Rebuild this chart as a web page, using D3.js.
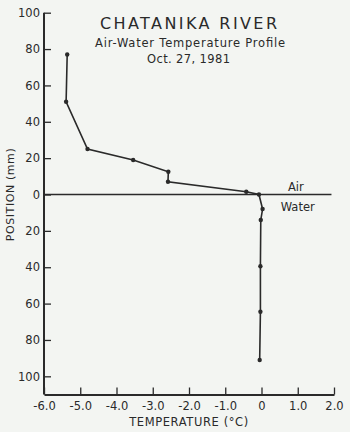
<!DOCTYPE html>
<html>
<head>
<meta charset="utf-8">
<script src="https://cdn.jsdelivr.net/npm/d3@7"></script>
<style>
  body { margin: 0; background: #f3f5f2; }
  svg { display: block; }
  text { font-family: "DejaVu Sans", sans-serif; fill: #2a2a2a; }
</style>
</head>
<body>
<svg id="chart" width="350" height="432"></svg>
<script>
// temperature (deg C) and position (mm, air positive / water negative)
var temperature = [-5.36, -5.39, -4.80, -3.54, -2.57, -2.58, -0.42, -0.07, 0.03, -0.02, -0.03, -0.03, -0.05];
var position    = [77, 51, 25, 19, 12.5, 7, 1.5, 0, -8, -14, -39.5, -64.5, -91];
var xTicks = [-6, -5, -4, -3, -2, -1, 0, 1, 2];
var yTicks = [100, 80, 60, 40, 20, 0, -20, -40, -60, -80, -100];

var points = temperature.map(function(t, i) {
	return {t: t, p: position[i]};
});

var svg = d3.select("#chart");
var ink = "#2a2a2a";

var x = d3.scaleLinear()
	.domain([-6, 2])
	.range([44, 334]);

var y = d3.scaleLinear()
	.domain([-110, 100])
	.range([394.5, 12.7]);

// y axis, ticks pointing inward
var yAxis = d3.axisLeft(y)
	.tickValues(yTicks)
	.tickSizeInner(-7)
	.tickSizeOuter(0)
	.tickPadding(4)
	.tickFormat(function(d) { return Math.abs(d); });

var gy = svg.append("g")
	.attr("transform", "translate(" + x(-6) + ",0)")
	.call(yAxis);
gy.selectAll("text").style("font-size", "11.5px").attr("fill", ink);
gy.selectAll("line").attr("stroke", ink).attr("stroke-width", 1.3);
gy.select(".domain").attr("stroke", ink).attr("stroke-width", 2)
	.attr("d", "M0," + y(100) + "V" + y(-110));

var xAxis = d3.axisBottom(x)
	.tickValues(xTicks)
	.tickSizeInner(-7)
	.tickSizeOuter(0)
	.tickPadding(7)
	.tickFormat(function(d) { return d === 0 ? "0" : d.toFixed(1); });

var gx = svg.append("g")
	.attr("transform", "translate(0," + y(-110) + ")")
	.call(xAxis);
gx.selectAll("text").style("font-size", "11.5px").attr("fill", ink);
gx.selectAll("line").attr("stroke", ink).attr("stroke-width", 1.3);
gx.select(".domain").attr("stroke", ink).attr("stroke-width", 2);

// air / water interface
svg.append("line")
	.attr("x1", x(-6)).attr("x2", x(1.93))
	.attr("y1", y(0)).attr("y2", y(0))
	.attr("stroke", ink)
	.attr("stroke-width", 1.5);

svg.append("text")
	.attr("x", x(0.73)).attr("y", y(0) - 4)
	.style("font-size", "11.5px")
	.text("Air");

svg.append("text")
	.attr("x", x(0.53)).attr("y", y(0) + 16)
	.style("font-size", "11.5px")
	.text("Water");

// profile
var line = d3.line()
	.x(function(d) { return x(d.t); })
	.y(function(d) { return y(d.p); });

svg.append("path")
	.datum(points)
	.attr("d", line)
	.attr("fill", "none")
	.attr("stroke", ink)
	.attr("stroke-width", 1.6);

svg.selectAll(".dot")
	.data(points)
	.enter().append("circle")
	.attr("class", "dot")
	.attr("cx", function(d) { return x(d.t); })
	.attr("cy", function(d) { return y(d.p); })
	.attr("r", 2.2)
	.attr("fill", ink);

// titles
svg.append("text")
	.attr("x", 100).attr("y", 28.5)
	.attr("textLength", 177)
	.attr("lengthAdjust", "spacing")
	.style("font-size", "16px")
	.text("CHATANIKA RIVER");

svg.append("text")
	.attr("x", 95).attr("y", 46.5)
	.attr("textLength", 190)
	.attr("lengthAdjust", "spacing")
	.style("font-size", "11.5px")
	.text("Air-Water Temperature Profile");

svg.append("text")
	.attr("x", 147).attr("y", 63)
	.attr("textLength", 83)
	.attr("lengthAdjust", "spacing")
	.style("font-size", "11.5px")
	.text("Oct. 27, 1981");

svg.append("text")
	.attr("text-anchor", "middle")
	.attr("x", 189).attr("y", 426)
	.style("font-size", "11.5px")
	.style("letter-spacing", "0.6px")
	.text("TEMPERATURE (°C)");

svg.append("text")
	.attr("transform", "translate(14," + y(0) + ") rotate(-90)")
	.attr("text-anchor", "middle")
	.style("font-size", "11px")
	.style("letter-spacing", "0.6px")
	.text("POSITION (mm)");
</script>
</body>
</html>
